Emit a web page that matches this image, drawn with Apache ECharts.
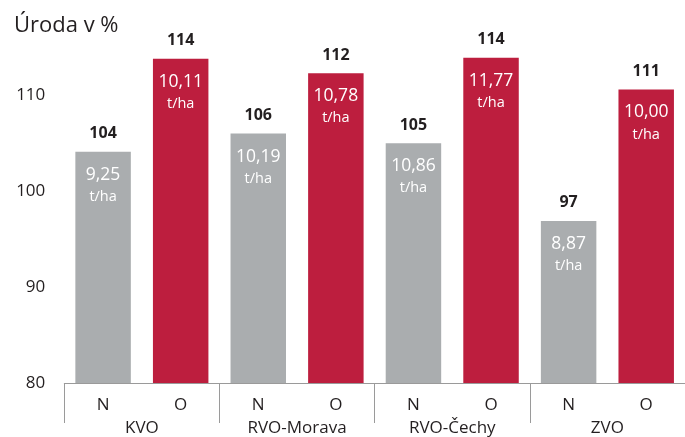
<!DOCTYPE html>
<html>
<head>
<meta charset="utf-8">
<script src="https://cdn.jsdelivr.net/npm/echarts@6/dist/echarts.min.js"></script>
<style>html,body{margin:0;padding:0;background:#fff}#c{width:685px;height:437px}</style>
</head>
<body>
<div id="c"></div>
<script>
var categories = ['N','O','N','O','N','O','N','O'];
var groups = ['KVO','RVO-Morava','RVO-Čechy','ZVO'];
var percent = [104.1, 113.8, 106.0, 112.3, 105.0, 113.9, 96.9, 110.6];
var yields = ['9,25','10,11','10,19','10,78','10,86','11,77','8,87','10,00'];
var yTicks = [80, 90, 100, 110];

var FONT = '"Open Sans", sans-serif';
var GREY = '#AAADAF';
var RED = '#BD1E3E';
var TXT = '#231F20';

var chart = echarts.init(document.getElementById('c'));
chart.setOption({
  animation: false,
  textStyle: { fontFamily: FONT },
  title: {
    text: 'Úroda v %', left: 9, top: 10,
    textStyle: { fontFamily: FONT, fontSize: 22, fontWeight: 'normal', color: TXT }
  },
  grid: { left: 64.3, right: -2, top: 47.3, bottom: 53.7 },
  xAxis: [
    {
      type: 'category', data: categories, position: 'bottom',
      axisLine: { show: true, lineStyle: { color: '#9a9a9a', width: 1 } },
      axisTick: { show: false },
      axisLabel: { margin: 14, fontSize: 17, color: TXT, fontFamily: FONT }
    },
    {
      type: 'category', data: groups, position: 'bottom',
      axisLine: { show: false },
      axisTick: { show: true, length: 40, lineStyle: { color: '#9a9a9a', width: 1 } },
      axisLabel: { margin: 37, fontSize: 17, color: TXT, fontFamily: FONT }
    }
  ],
  yAxis: {
    type: 'value', min: 80, max: 115, interval: 10,
    axisLine: { show: false }, axisTick: { show: false }, splitLine: { show: false },
    axisLabel: {
      margin: 19, fontSize: 17, color: TXT, fontFamily: FONT,
      formatter: function (v) { return yTicks.indexOf(v) >= 0 ? String(v) : ''; }
    }
  },
  series: [
    {
      type: 'bar', xAxisIndex: 0, data: percent, barWidth: '71.5%', barGap: '-100%',
      itemStyle: { color: function (p) { return p.dataIndex % 2 === 0 ? GREY : RED; } },
      label: {
        show: true, position: 'insideTop', distance: 12,
        formatter: function (p) { return '{a|' + yields[p.dataIndex] + '}\n{b|t/ha}'; },
        rich: {
          a: { fontSize: 17.5, lineHeight: 22, color: '#fff', fontFamily: FONT },
          b: { fontSize: 14.5, lineHeight: 22, color: '#fff', fontFamily: FONT }
        }
      }
    },
    {
      type: 'bar', xAxisIndex: 0, data: percent, barWidth: '71.5%', barGap: '-100%',
      itemStyle: { color: 'rgba(0,0,0,0)' },
      silent: true,
      label: {
        show: true, position: 'top', distance: 10,
        fontSize: 16, fontWeight: 'bold', color: TXT, fontFamily: FONT,
        formatter: function (p) { return String(Math.round(p.value)); }
      }
    }
  ]
});
</script>
</body>
</html>
